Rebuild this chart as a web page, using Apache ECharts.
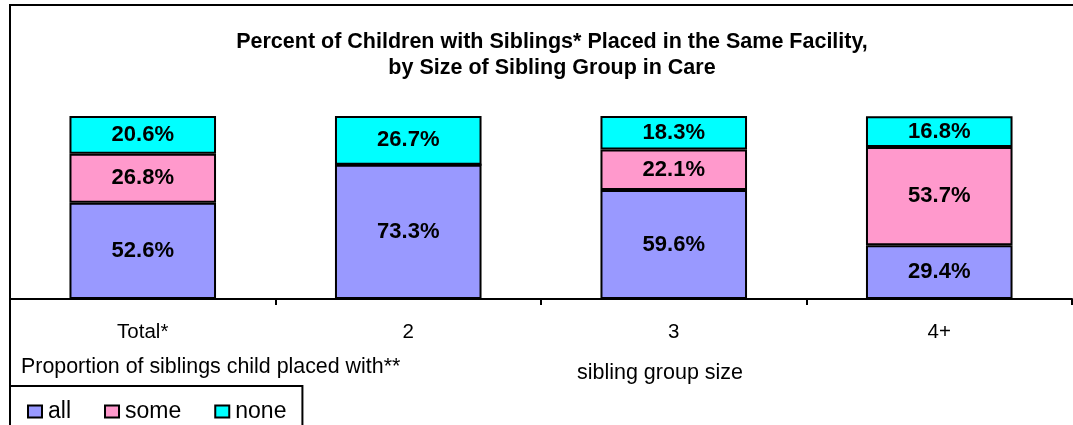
<!DOCTYPE html>
<html>
<head>
<meta charset="utf-8">
<script src="https://cdn.jsdelivr.net/npm/echarts@6/dist/echarts.min.js"></script>
<style>
  html, body { margin: 0; padding: 0; background: #fff; }
  #chart { width: 1073px; height: 425px; }
</style>
</head>
<body>
<div id="chart"></div>
<script>
// categories and shares (percent of children)
const categories = ['Total*', '2', '3', '4+']
const allData = [52.6, 73.3, 59.6, 29.4]
const someData = [26.8, 0, 22.1, 53.7]
const noneData = [20.6, 26.7, 18.3, 16.8]

const FONT = 'Arial, "Liberation Sans", sans-serif'

const chart = echarts.init(document.getElementById('chart'))

function barSeries(name, data, color) {
  return {
    name: name,
    type: 'bar',
    stack: 'total',
    data: data,
    barWidth: '55.2%',
    itemStyle: {
      color: color,
      borderColor: '#000',
      borderWidth: 2
    },
    label: {
      show: true,
      position: 'inside',
      color: '#000',
      fontFamily: FONT,
      fontWeight: 'bold',
      fontSize: 22,
      formatter: p => (p.value ? p.value.toFixed(1) + '%' : '')
    }
  }
}

const option = {
  animation: false,
  backgroundColor: '#fff',
  title: {
    text: 'Percent of Children with Siblings* Placed in the Same Facility,\nby Size of Sibling Group in Care',
    left: 547,
    textAlign: 'center',
    top: 24,
    textStyle: {
      fontFamily: FONT,
      fontWeight: 'bold',
      fontSize: 21.5,
      lineHeight: 26,
      color: '#000'
    }
  },
  legend: {
    left: 10,
    top: 386,
    orient: 'horizontal',
    padding: [14, 16, 20, 17],
    itemWidth: 14,
    itemHeight: 12,
    itemGap: 33,
    icon: 'rect',
    borderColor: '#000',
    borderWidth: 2,
    textStyle: {
      fontFamily: FONT,
      fontSize: 23,
      color: '#000',
      padding: [0, 0, 0, 1]
    },
    data: ['all', 'some', 'none']
  },
  grid: {
    left: 10,
    right: 1,
    top: 116,
    bottom: 126
  },
  xAxis: {
    type: 'category',
    data: categories,
    axisLine: { lineStyle: { color: '#000', width: 2 } },
    axisTick: { show: true, length: 6, lineStyle: { color: '#000', width: 2 } },
    axisLabel: {
      color: '#000',
      fontFamily: FONT,
      fontSize: 20.5,
      margin: 23
    }
  },
  yAxis: {
    type: 'value',
    min: 0,
    max: 100,
    show: false,
    splitLine: { show: false }
  },
  graphic: [
    {
      type: 'rect',
      shape: { x: 10, y: 5, width: 1080, height: 440 },
      style: { fill: null, stroke: '#000', lineWidth: 2 },
      silent: true
    },
    {
      type: 'text',
      left: 21,
      top: 357,
      style: {
        text: 'Proportion of siblings child placed with**',
        fontFamily: FONT,
        fontSize: 21.4,
        fill: '#000'
      }
    },
    {
      type: 'text',
      x: 660,
      y: 373,
      style: {
        text: 'sibling group size',
        fontFamily: FONT,
        fontSize: 21.5,
        fill: '#000',
        align: 'center',
        verticalAlign: 'middle'
      }
    }
  ],
  series: [
    barSeries('all', allData, '#9999ff'),
    barSeries('some', someData, '#ff99cc'),
    barSeries('none', noneData, '#00ffff')
  ]
}

chart.setOption(option)
</script>
</body>
</html>
